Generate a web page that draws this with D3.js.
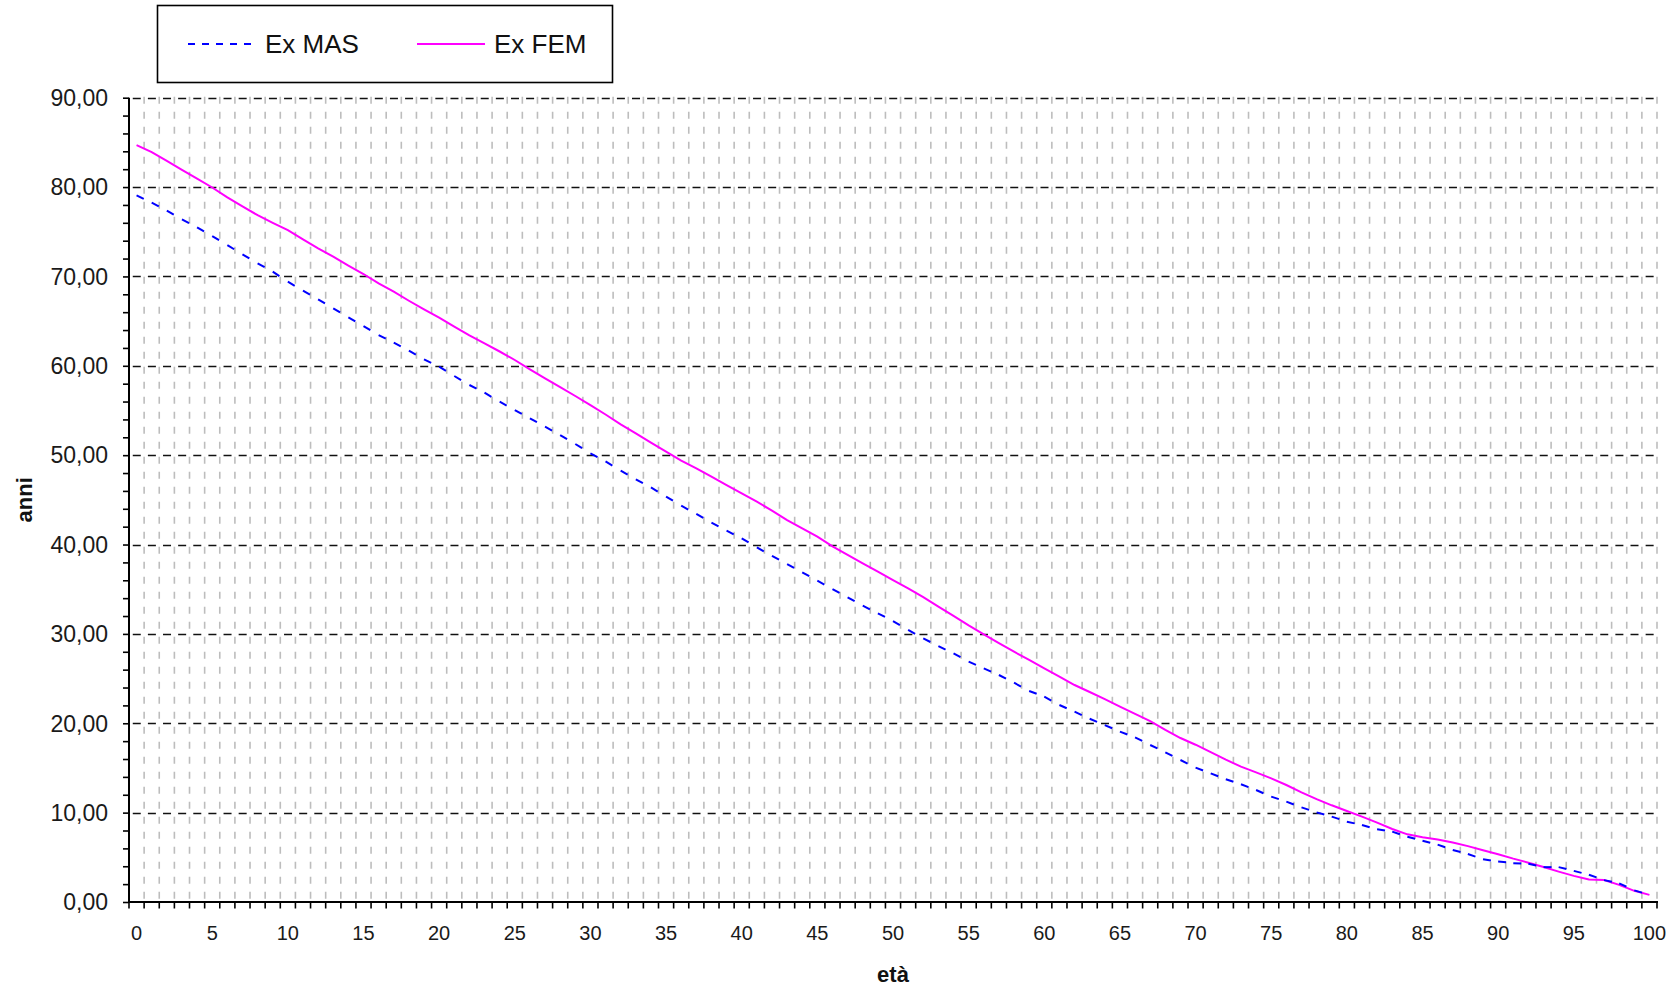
<!DOCTYPE html>
<html>
<head>
<meta charset="utf-8">
<script src="https://cdn.jsdelivr.net/npm/d3@7"></script>
<style>
  html, body { margin: 0; padding: 0; background: #fff; }
  svg { display: block; font-family: "Liberation Sans", Arial, sans-serif; }
</style>
</head>
<body>
<svg id="chart" width="1669" height="989"></svg>
<script>
// ---- data ----
const ages = d3.range(0, 101);
const exFem = [
  84.70, 83.92, 82.93, 81.93, 80.95, 79.95, 78.85, 77.85, 76.85, 76.00,
  75.19, 74.15, 73.14, 72.21, 71.20, 70.27, 69.22, 68.29, 67.28, 66.31,
  65.38, 64.38, 63.41, 62.51, 61.60, 60.65, 59.61, 58.60, 57.62, 56.62,
  55.60, 54.55, 53.45, 52.44, 51.40, 50.39, 49.38, 48.52, 47.59, 46.66,
  45.73, 44.80, 43.79, 42.74, 41.81, 40.88, 39.80, 38.83, 37.90, 36.96,
  36.03, 35.10, 34.12, 33.05, 32.02, 30.95, 29.95, 28.97, 28.01, 27.08,
  26.15, 25.21, 24.28, 23.50, 22.70, 21.86, 21.04, 20.25, 19.25, 18.35,
  17.60, 16.78, 15.93, 15.14, 14.51, 13.84, 13.09, 12.27, 11.52, 10.82,
  10.18, 9.55, 8.88, 8.17, 7.57, 7.24, 7.00, 6.65, 6.25, 5.80,
  5.35, 4.85, 4.40, 3.92, 3.40, 2.92, 2.52, 2.46, 1.92, 1.25,
  0.80
];
const exMas = [
  79.07, 78.25, 77.36, 76.39, 75.49, 74.52, 73.51, 72.47, 71.46, 70.53,
  69.41, 68.40, 67.44, 66.43, 65.42, 64.45, 63.44, 62.59, 61.69, 60.72,
  59.90, 58.86, 57.85, 56.99, 55.98, 55.05, 54.12, 53.19, 52.25, 51.25,
  50.20, 49.30, 48.26, 47.29, 46.40, 45.36, 44.35, 43.42, 42.45, 41.55,
  40.69, 39.68, 38.72, 37.82, 36.89, 35.96, 35.02, 34.09, 33.16, 32.30,
  31.44, 30.44, 29.50, 28.64, 27.82, 26.89, 26.15, 25.40, 24.54, 23.61,
  22.98, 22.04, 21.30, 20.50, 19.80, 19.06, 18.42, 17.57, 16.75, 15.89,
  15.03, 14.40, 13.73, 13.17, 12.53, 11.79, 11.23, 10.59, 10.03, 9.55,
  8.99, 8.62, 8.13, 7.87, 7.31, 6.86, 6.42, 5.82, 5.37, 4.79,
  4.53, 4.35, 4.28, 3.90, 3.90, 3.48, 3.05, 2.45, 2.09, 1.30,
  0.80
];
const yMajorTicks = [0, 10, 20, 30, 40, 50, 60, 70, 80, 90];
const xLabelAges = [0, 5, 10, 15, 20, 25, 30, 35, 40, 45, 50, 55, 60, 65, 70, 75, 80, 85, 90, 95, 100];
const seriesNames = ["Ex MAS", "Ex FEM"];
const yTitle = "anni";
const xTitle = "età";

// ---- layout ----
const L = 129, R = 1657, T = 97.7, B = 902;
const svg = d3.select("#chart");

const x = d3.scaleBand().domain(ages).range([L, R]).padding(0);
const y = d3.scaleLinear().domain([0, 90]).range([B, T]);
const bw = x.bandwidth();
const cx = a => x(a) + bw / 2;
const fmt = v => d3.format(".2f")(v).replace(".", ",");

// vertical gray gridlines at category boundaries
const boundaries = d3.range(1, ages.length + 1);
svg.append("g").selectAll("line").data(boundaries).join("line")
  .attr("x1", k => L + k * bw).attr("x2", k => L + k * bw)
  .attr("y1", T - 1).attr("y2", B)
  .attr("stroke", "#bdbdbd").attr("stroke-width", 1.6)
  .attr("stroke-dasharray", "7,8");

// horizontal black dashed gridlines
svg.append("g").selectAll("line").data(yMajorTicks.filter(v => v > 0)).join("line")
  .attr("x1", L).attr("x2", R)
  .attr("y1", d => Math.round(y(d)) + 0.5).attr("y2", d => Math.round(y(d)) + 0.5)
  .attr("stroke", "#111").attr("stroke-width", 1.7)
  .attr("stroke-dasharray", `0,${(bw - 8) / 2 + 0.2},8,${(bw - 8) / 2 - 0.2}`);

// y axis (major + minor ticks)
const yAxis = d3.axisLeft(y).tickValues(d3.range(0, 91, 2)).tickSize(6).tickFormat("");
const gy = svg.append("g").attr("transform", `translate(${L},0)`).call(yAxis);
gy.select(".domain").attr("stroke", "#000").attr("stroke-width", 2).attr("d", `M0,${T}V${B}`);
gy.selectAll(".tick line").attr("stroke", "#000").attr("stroke-width", 1.6);

// y labels
svg.append("g").selectAll("text").data(yMajorTicks).join("text")
  .attr("x", 108).attr("y", d => y(d))
  .attr("dy", "0.36em")
  .attr("text-anchor", "end")
  .attr("font-size", 23).attr("fill", "#1a1a1a")
  .text(d => fmt(d));

// x axis ticks at category boundaries
const gx = svg.append("g");
gx.append("line").attr("x1", L - 1).attr("x2", R + 1).attr("y1", B).attr("y2", B)
  .attr("stroke", "#000").attr("stroke-width", 2);
gx.selectAll("line.tk").data(d3.range(0, ages.length + 1)).join("line").attr("class", "tk")
  .attr("x1", k => L + k * bw).attr("x2", k => L + k * bw)
  .attr("y1", B).attr("y2", B + 6.5)
  .attr("stroke", "#000").attr("stroke-width", 1.6);
gx.selectAll("text").data(xLabelAges).join("text")
  .attr("x", d => cx(d)).attr("y", 940)
  .attr("text-anchor", "middle")
  .attr("font-size", 20).attr("fill", "#1a1a1a")
  .text(d => d);

// axis titles
svg.append("text")
  .attr("transform", `translate(32,${(T + B) / 2}) rotate(-90)`)
  .attr("text-anchor", "middle").attr("font-size", 22).attr("font-weight", "bold")
  .attr("fill", "#111").text(yTitle);
svg.append("text")
  .attr("x", (L + R) / 2).attr("y", 982)
  .attr("text-anchor", "middle").attr("font-size", 22).attr("font-weight", "bold")
  .attr("fill", "#111").text(xTitle);

// series lines
const line = d3.line().x(d => cx(d.a)).y(d => y(d.v));
const femPts = ages.map((a, i) => ({ a, v: exFem[i] }));
const masPts = ages.map((a, i) => ({ a, v: exMas[i] }));

svg.append("path").datum(femPts)
  .attr("d", line).attr("fill", "none")
  .attr("stroke", "#ff00ff").attr("stroke-width", 2);

// MAS: dashed, dash pattern restarting at each segment (as in the original)
const masSegs = d3.pairs(masPts);
svg.append("g").selectAll("path").data(masSegs).join("path")
  .attr("d", line).attr("fill", "none")
  .attr("stroke", "#0000ff").attr("stroke-width", 2)
  .attr("stroke-dasharray", "8,100");

// legend
const lg = svg.append("g");
lg.append("rect").attr("x", 157.5).attr("y", 5.5).attr("width", 455).attr("height", 77)
  .attr("fill", "#fff").attr("stroke", "#000").attr("stroke-width", 1.6);
lg.append("line").attr("x1", 188).attr("x2", 256).attr("y1", 44).attr("y2", 44)
  .attr("stroke", "#0000ff").attr("stroke-width", 2).attr("stroke-dasharray", "7,7");
lg.append("text").attr("x", 265).attr("y", 53).attr("font-size", 26).attr("fill", "#111").text(seriesNames[0]);
lg.append("line").attr("x1", 417).attr("x2", 485).attr("y1", 44).attr("y2", 44)
  .attr("stroke", "#ff00ff").attr("stroke-width", 2);
lg.append("text").attr("x", 494).attr("y", 53).attr("font-size", 26).attr("fill", "#111").text(seriesNames[1]);
</script>
</body>
</html>
